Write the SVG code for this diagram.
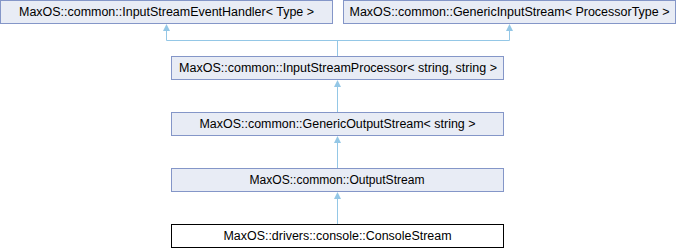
<svg xmlns="http://www.w3.org/2000/svg" width="676" height="248" viewBox="0 0 676 248">
<style>
.box{fill:#E8ECF5;stroke:#8496C8;stroke-width:1}
.leaf{fill:#FFFFFF;stroke:#000000;stroke-width:1}
.lbl{font-family:"Liberation Sans",Arial,sans-serif;font-size:12px;fill:#000000;text-anchor:middle}
.edge{fill:none;stroke:#94C7E6;stroke-width:1}
.head{fill:#94C7E6;stroke:none}
</style>
<defs>
<polygon id="ah" class="head" points="0,0 3.5,7 -3.5,7"/>
</defs>
<rect x="0" y="0" width="676" height="248" fill="#FFFFFF"/>
<g id="connectors">
<path class="edge" d="M166.5,30 V40.5 H509.5 V30"/>
<path class="edge" d="M337.5,40.5 V56"/>
<path class="edge" d="M337.5,86 V112"/>
<path class="edge" d="M337.5,142 V168"/>
<path class="edge" d="M337.5,198 V224"/>
<use href="#ah" x="166.5" y="24"/>
<use href="#ah" x="509.5" y="24"/>
<use href="#ah" x="337.5" y="80"/>
<use href="#ah" x="337.5" y="136"/>
<use href="#ah" x="337.5" y="192"/>
</g>
<g id="InputStreamEventHandler">
<rect class="box" x="0.5" y="0.5" width="332" height="23"/>
<text class="lbl" x="166.5" y="16" textLength="295" lengthAdjust="spacingAndGlyphs">MaxOS::common::InputStreamEventHandler&lt; Type &gt;</text>
</g>
<g id="GenericInputStream">
<rect class="box" x="343.5" y="0.5" width="332" height="23"/>
<text class="lbl" x="509.5" y="16" textLength="320" lengthAdjust="spacingAndGlyphs">MaxOS::common::GenericInputStream&lt; ProcessorType &gt;</text>
</g>
<g id="InputStreamProcessor">
<rect class="box" x="171.5" y="56.5" width="332" height="23"/>
<text class="lbl" x="338" y="72" textLength="318" lengthAdjust="spacingAndGlyphs">MaxOS::common::InputStreamProcessor&lt; string, string &gt;</text>
</g>
<g id="GenericOutputStream">
<rect class="box" x="171.5" y="112.5" width="332" height="23"/>
<text class="lbl" x="337.5" y="128" textLength="276" lengthAdjust="spacingAndGlyphs">MaxOS::common::GenericOutputStream&lt; string &gt;</text>
</g>
<g id="OutputStream">
<rect class="box" x="171.5" y="168.5" width="332" height="23"/>
<text class="lbl" x="337" y="184" textLength="175" lengthAdjust="spacingAndGlyphs">MaxOS::common::OutputStream</text>
</g>
<g id="ConsoleStream">
<rect class="leaf" x="171.5" y="224.5" width="332" height="23"/>
<text class="lbl" x="337.5" y="240" textLength="228" lengthAdjust="spacingAndGlyphs">MaxOS::drivers::console::ConsoleStream</text>
</g>
</svg>
